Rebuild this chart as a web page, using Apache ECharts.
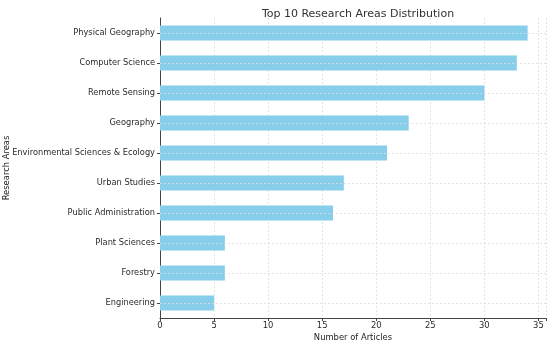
<!DOCTYPE html>
<html><head><meta charset="utf-8">
<script src="https://cdn.jsdelivr.net/npm/echarts@6/dist/echarts.min.js"></script>
<style>html,body{margin:0;padding:0;background:#fff}#c{width:550px;height:342px}</style>
</head><body><div id="c"></div>
<script>
const categories = ["Engineering","Forestry","Plant Sciences","Public Administration","Urban Studies","Environmental Sciences & Ecology","Geography","Remote Sensing","Computer Science","Physical Geography"];
const values = [5,6,6,16,17,21,23,30,33,34];
const xTicks = [0,5,10,15,20,25,30,35];
const font = "DejaVu Sans";
const gridStyle = {color:'#dedede',type:[2,2],width:0.8};
const chart = echarts.init(document.getElementById('c'));
chart.setOption({
  animation:false,
  title:{text:"Top 10 Research Areas Distribution",left:353,top:4,textAlign:'center',
    textStyle:{fontFamily:font,fontSize:11,fontWeight:'normal',color:'#333'}},
  grid:{left:160,right:4,top:18,bottom:24,containLabel:false,outerBoundsMode:'none'},
  xAxis:{type:'value',min:0,max:35.7,interval:5,
    name:"Number of Articles",nameLocation:'middle',nameGap:16,nameMoveOverlap:false,
    nameTextStyle:{fontFamily:font,fontSize:8.4,color:'#222'},
    axisLine:{show:true,lineStyle:{color:'#444',width:1}},
    axisTick:{show:true,length:3,lineStyle:{color:'#444'}},
    axisLabel:{fontFamily:font,fontSize:8.4,color:'#2a2a2a',margin:4,
      formatter:v=>xTicks.includes(v)?String(v):''},
    splitLine:{show:true,lineStyle:gridStyle}},
  yAxis:{type:'category',data:categories,boundaryGap:true,
    name:"Research Areas",nameLocation:'middle',nameGap:149,nameRotate:90,nameMoveOverlap:false,
    nameTextStyle:{fontFamily:font,fontSize:8.4,color:'#222'},
    axisLine:{show:true,lineStyle:{color:'#444',width:1}},
    axisTick:{show:true,length:3,alignWithLabel:true,lineStyle:{color:'#444'}},
    axisLabel:{fontFamily:font,fontSize:8.25,color:'#2a2a2a',margin:5},
    splitLine:{show:false}},
  series:[
    {type:'line',data:[],z:1,silent:true,
      markLine:{silent:true,symbol:'none',label:{show:false},
        lineStyle:gridStyle,
        data:categories.map(c=>[{xAxis:0,yAxis:c},{xAxis:35.7,yAxis:c}])}},
    {type:'bar',data:values,barWidth:'50%',z:2,itemStyle:{color:'#87CEEB'}}
  ]
});
</script></body></html>
